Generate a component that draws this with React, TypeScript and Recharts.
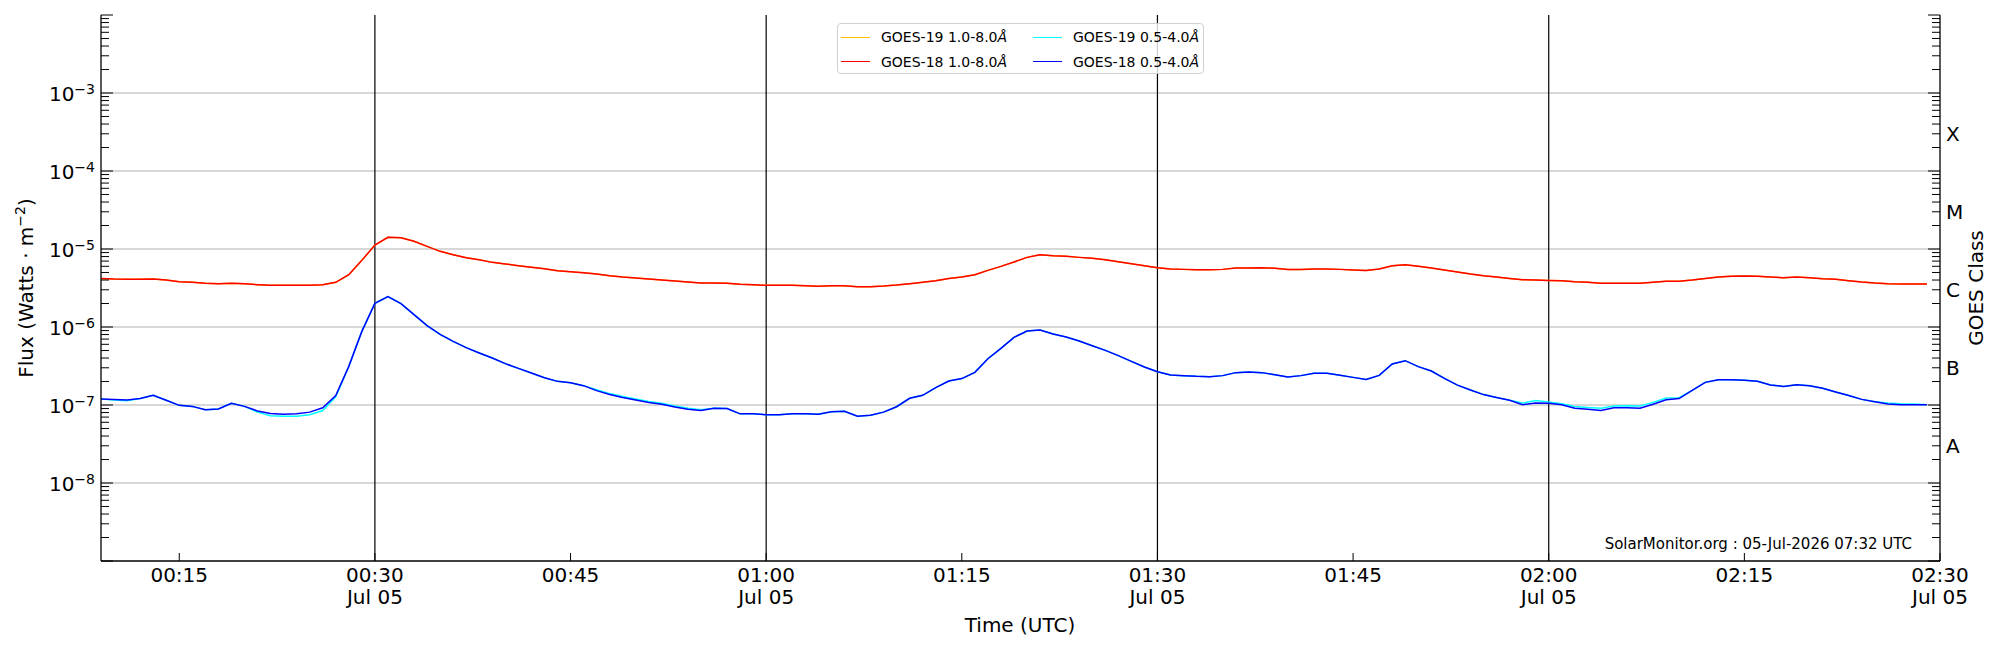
import React from 'react';
import { LineChart, Line, XAxis, YAxis, ReferenceLine, Legend } from 'recharts';

// one-minute GOES XRS samples, first one at 00:09 UTC
const startMinute = 9;

const goes18Long = [
  4.20e-6, 4.12e-6, 4.08e-6, 4.08e-6, 4.12e-6, 4.00e-6, 3.81e-6, 3.74e-6, 3.63e-6, 3.59e-6,
  3.63e-6, 3.59e-6, 3.49e-6, 3.42e-6, 3.42e-6, 3.42e-6, 3.42e-6, 3.49e-6, 3.74e-6, 4.69e-6,
  7.15e-6, 1.126e-5, 1.411e-5, 1.397e-5, 1.254e-5, 1.082e-5, 9.33e-6, 8.45e-6, 7.74e-6, 7.29e-6,
  6.74e-6, 6.42e-6, 6.11e-6, 5.82e-6, 5.59e-6, 5.27e-6, 5.12e-6, 4.97e-6, 4.78e-6, 4.55e-6,
  4.37e-6, 4.25e-6, 4.12e-6, 4.00e-6, 3.89e-6, 3.77e-6, 3.66e-6, 3.66e-6, 3.63e-6, 3.52e-6,
  3.49e-6, 3.42e-6, 3.42e-6, 3.42e-6, 3.39e-6, 3.32e-6, 3.39e-6, 3.39e-6, 3.29e-6, 3.29e-6,
  3.35e-6, 3.45e-6, 3.59e-6, 3.74e-6, 3.92e-6, 4.20e-6, 4.37e-6, 4.69e-6, 5.32e-6, 5.99e-6,
  6.81e-6, 7.81e-6, 8.45e-6, 8.21e-6, 8.05e-6, 7.81e-6, 7.59e-6, 7.29e-6, 6.88e-6, 6.48e-6,
  6.11e-6, 5.76e-6, 5.54e-6, 5.48e-6, 5.43e-6, 5.43e-6, 5.48e-6, 5.70e-6, 5.70e-6, 5.76e-6,
  5.65e-6, 5.48e-6, 5.48e-6, 5.54e-6, 5.54e-6, 5.48e-6, 5.38e-6, 5.32e-6, 5.54e-6, 6.11e-6,
  6.29e-6, 5.99e-6, 5.70e-6, 5.38e-6, 5.07e-6, 4.78e-6, 4.55e-6, 4.37e-6, 4.20e-6, 4.04e-6,
  4.00e-6, 3.96e-6, 3.92e-6, 3.81e-6, 3.74e-6, 3.63e-6, 3.63e-6, 3.63e-6, 3.63e-6, 3.74e-6,
  3.85e-6, 3.85e-6, 4.00e-6, 4.20e-6, 4.37e-6, 4.46e-6, 4.50e-6, 4.46e-6, 4.37e-6, 4.29e-6,
  4.37e-6, 4.29e-6, 4.16e-6, 4.08e-6, 3.92e-6, 3.77e-6, 3.66e-6, 3.59e-6, 3.56e-6, 3.56e-6,
  3.56e-6,
];

const goes19Long = [
  4.20e-6, 4.12e-6, 4.08e-6, 4.08e-6, 4.12e-6, 4.00e-6, 3.81e-6, 3.74e-6, 3.63e-6, 3.59e-6,
  3.63e-6, 3.59e-6, 3.49e-6, 3.42e-6, 3.42e-6, 3.42e-6, 3.42e-6, 3.49e-6, 3.74e-6, 4.69e-6,
  7.15e-6, 1.126e-5, 1.411e-5, 1.397e-5, 1.254e-5, 1.082e-5, 9.33e-6, 8.45e-6, 7.74e-6, 7.29e-6,
  6.74e-6, 6.42e-6, 6.11e-6, 5.82e-6, 5.59e-6, 5.27e-6, 5.12e-6, 4.97e-6, 4.78e-6, 4.55e-6,
  4.37e-6, 4.25e-6, 4.12e-6, 4.00e-6, 3.89e-6, 3.77e-6, 3.66e-6, 3.66e-6, 3.63e-6, 3.52e-6,
  3.49e-6, 3.42e-6, 3.42e-6, 3.42e-6, 3.39e-6, 3.32e-6, 3.39e-6, 3.39e-6, 3.29e-6, 3.29e-6,
  3.35e-6, 3.45e-6, 3.59e-6, 3.74e-6, 3.92e-6, 4.20e-6, 4.37e-6, 4.69e-6, 5.32e-6, 5.99e-6,
  6.81e-6, 7.81e-6, 8.45e-6, 8.21e-6, 8.05e-6, 7.81e-6, 7.59e-6, 7.29e-6, 6.88e-6, 6.48e-6,
  6.11e-6, 5.76e-6, 5.54e-6, 5.48e-6, 5.43e-6, 5.43e-6, 5.48e-6, 5.70e-6, 5.70e-6, 5.76e-6,
  5.65e-6, 5.48e-6, 5.48e-6, 5.54e-6, 5.54e-6, 5.48e-6, 5.38e-6, 5.32e-6, 5.54e-6, 6.11e-6,
  6.29e-6, 5.99e-6, 5.70e-6, 5.38e-6, 5.07e-6, 4.78e-6, 4.55e-6, 4.37e-6, 4.20e-6, 4.04e-6,
  4.00e-6, 3.96e-6, 3.92e-6, 3.81e-6, 3.74e-6, 3.63e-6, 3.63e-6, 3.63e-6, 3.63e-6, 3.74e-6,
  3.85e-6, 3.85e-6, 4.00e-6, 4.20e-6, 4.37e-6, 4.46e-6, 4.50e-6, 4.46e-6, 4.37e-6, 4.29e-6,
  4.37e-6, 4.29e-6, 4.16e-6, 4.08e-6, 3.92e-6, 3.77e-6, 3.66e-6, 3.59e-6, 3.56e-6, 3.56e-6,
  3.56e-6,
];

const goes18Short = [
  1.19e-7, 1.18e-7, 1.16e-7, 1.21e-7, 1.33e-7, 1.15e-7, 9.9e-8, 9.6e-8, 8.7e-8, 8.9e-8,
  1.05e-7, 9.6e-8, 8.4e-8, 7.8e-8, 7.6e-8, 7.7e-8, 8.1e-8, 9.2e-8, 1.32e-7, 3.13e-7,
  8.79e-7, 2.01e-6, 2.45e-6, 1.99e-6, 1.44e-6, 1.04e-6, 8.05e-7, 6.55e-7, 5.43e-7, 4.64e-7,
  4.00e-7, 3.39e-7, 2.95e-7, 2.57e-7, 2.24e-7, 2.01e-7, 1.93e-7, 1.77e-7, 1.53e-7, 1.36e-7,
  1.25e-7, 1.16e-7, 1.08e-7, 1.02e-7, 9.4e-8, 8.8e-8, 8.5e-8, 9.1e-8, 9.0e-8, 7.7e-8,
  7.7e-8, 7.5e-8, 7.5e-8, 7.7e-8, 7.7e-8, 7.6e-8, 8.2e-8, 8.3e-8, 7.2e-8, 7.4e-8,
  8.1e-8, 9.5e-8, 1.22e-7, 1.33e-7, 1.67e-7, 2.03e-7, 2.18e-7, 2.62e-7, 3.92e-7, 5.32e-7,
  7.37e-7, 8.88e-7, 9.14e-7, 8.13e-7, 7.44e-7, 6.61e-7, 5.76e-7, 5.02e-7, 4.29e-7, 3.63e-7,
  3.07e-7, 2.67e-7, 2.42e-7, 2.38e-7, 2.33e-7, 2.31e-7, 2.38e-7, 2.60e-7, 2.65e-7, 2.60e-7,
  2.45e-7, 2.28e-7, 2.38e-7, 2.55e-7, 2.55e-7, 2.40e-7, 2.26e-7, 2.13e-7, 2.40e-7, 3.35e-7,
  3.70e-7, 3.10e-7, 2.73e-7, 2.20e-7, 1.80e-7, 1.56e-7, 1.36e-7, 1.25e-7, 1.15e-7, 1.01e-7,
  1.06e-7, 1.05e-7, 1.01e-7, 9.1e-8, 8.8e-8, 8.5e-8, 9.2e-8, 9.2e-8, 9.1e-8, 1.02e-7,
  1.17e-7, 1.21e-7, 1.54e-7, 1.95e-7, 2.11e-7, 2.11e-7, 2.07e-7, 2.01e-7, 1.80e-7, 1.73e-7,
  1.82e-7, 1.77e-7, 1.64e-7, 1.47e-7, 1.32e-7, 1.18e-7, 1.10e-7, 1.03e-7, 1.01e-7, 1.01e-7,
  1.01e-7,
];

const goes19Short = [
  1.19e-7, 1.16e-7, 1.13e-7, 1.21e-7, 1.33e-7, 1.15e-7, 9.9e-8, 9.6e-8, 8.7e-8, 8.9e-8,
  1.05e-7, 9.6e-8, 8.1e-8, 7.3e-8, 7.2e-8, 7.2e-8, 7.5e-8, 8.5e-8, 1.27e-7, 3.13e-7,
  8.79e-7, 2.01e-6, 2.45e-6, 1.99e-6, 1.44e-6, 1.04e-6, 8.05e-7, 6.55e-7, 5.43e-7, 4.64e-7,
  4.00e-7, 3.39e-7, 2.95e-7, 2.57e-7, 2.24e-7, 2.01e-7, 1.93e-7, 1.77e-7, 1.57e-7, 1.40e-7,
  1.29e-7, 1.19e-7, 1.11e-7, 1.05e-7, 9.7e-8, 9.1e-8, 8.7e-8, 9.1e-8, 9.0e-8, 7.7e-8,
  7.7e-8, 7.5e-8, 7.5e-8, 7.7e-8, 7.7e-8, 7.6e-8, 8.2e-8, 8.3e-8, 7.2e-8, 7.4e-8,
  8.1e-8, 9.5e-8, 1.22e-7, 1.33e-7, 1.67e-7, 2.03e-7, 2.18e-7, 2.62e-7, 3.92e-7, 5.32e-7,
  7.37e-7, 8.88e-7, 9.14e-7, 8.13e-7, 7.44e-7, 6.61e-7, 5.76e-7, 5.02e-7, 4.29e-7, 3.63e-7,
  3.07e-7, 2.67e-7, 2.42e-7, 2.38e-7, 2.33e-7, 2.31e-7, 2.38e-7, 2.60e-7, 2.65e-7, 2.60e-7,
  2.45e-7, 2.28e-7, 2.38e-7, 2.55e-7, 2.55e-7, 2.40e-7, 2.26e-7, 2.13e-7, 2.40e-7, 3.35e-7,
  3.70e-7, 3.10e-7, 2.73e-7, 2.20e-7, 1.80e-7, 1.56e-7, 1.36e-7, 1.25e-7, 1.15e-7, 1.06e-7,
  1.14e-7, 1.09e-7, 1.04e-7, 9.6e-8, 9.3e-8, 9.1e-8, 9.7e-8, 9.8e-8, 9.7e-8, 1.08e-7,
  1.23e-7, 1.24e-7, 1.54e-7, 1.95e-7, 2.11e-7, 2.11e-7, 2.07e-7, 2.01e-7, 1.80e-7, 1.73e-7,
  1.82e-7, 1.77e-7, 1.64e-7, 1.47e-7, 1.32e-7, 1.18e-7, 1.10e-7, 1.06e-7, 1.04e-7, 1.03e-7,
  1.01e-7,
];

const xTickMinutes = [15, 30, 45, 60, 75, 90, 105, 120, 135, 150];
const xTickTimes = ['00:15', '00:30', '00:45', '01:00', '01:15', '01:30', '01:45', '02:00', '02:15', '02:30'];
const xTickDates = ['', 'Jul 05', '', 'Jul 05', '', 'Jul 05', '', 'Jul 05', '', 'Jul 05'];
const halfHourLines = [30, 60, 90, 120];

const fluxExponents = [-8, -7, -6, -5, -4, -3];
const classLetters = ['A', 'B', 'C', 'M', 'X'];
const classLevels = [3e-8, 3e-7, 3e-6, 3e-5, 3e-4];

const series = [
  { key: 'g19l', name: 'GOES-19 1.0-8.0', color: '#ffbf00' },
  { key: 'g18l', name: 'GOES-18 1.0-8.0', color: '#ff0000' },
  { key: 'g19s', name: 'GOES-19 0.5-4.0', color: '#00ffff' },
  { key: 'g18s', name: 'GOES-18 0.5-4.0', color: '#0000ff' },
];

const rows = goes18Long.map((_, i) => ({
  t: startMinute + i,
  g19l: goes19Long[i],
  g18l: goes18Long[i],
  g19s: goes19Short[i],
  g18s: goes18Short[i],
}));

const FONT = 'DejaVu Sans, sans-serif';
const Y_DOMAIN: [number, number] = [1e-9, 1e-2];
const X_DOMAIN: [number, number] = [9, 150];

// decades 1e-9 .. 1e-2 with the 2..9 minor steps in between
const logTicks: number[] = [];
for (let e = -9; e <= -3; e++) {
  for (let k = 1; k <= 9; k++) logTicks.push(Number((k * Math.pow(10, e)).toPrecision(6)));
}
logTicks.push(1e-2);

const decadeOf = (v: number) => Math.floor(Math.log10(v) + 1e-9);
const isDecade = (v: number) => Math.abs(v / Math.pow(10, decadeOf(v)) - 1) < 1e-6;

const LeftTick = (props: any) => {
  const { x, y, payload } = props;
  const v = payload.value;
  const major = isDecade(v);
  const exp = decadeOf(v);
  return (
    <g>
      <line x1={x} y1={y} x2={x + (major ? 12 : 8)} y2={y} stroke="#000" strokeWidth={1} />
      {major && fluxExponents.includes(exp) && (
        <text x={x - 6} y={y + 8} textAnchor="end" fontSize={20} fontFamily={FONT} fill="#000">
          10
          <tspan fontSize={14} dy={-7.5}>{`\u2212${-exp}`}</tspan>
        </text>
      )}
    </g>
  );
};

const RightTick = (props: any) => {
  const { x, y, payload } = props;
  const v = payload.value;
  const major = isDecade(v);
  const ci = classLevels.findIndex((c) => Math.abs(c - v) / c < 1e-6);
  return (
    <g>
      <line x1={x} y1={y} x2={x - (major ? 12 : 8)} y2={y} stroke="#000" strokeWidth={1} />
      {ci >= 0 && (
        <text x={x + 6} y={y + 7} textAnchor="start" fontSize={20} fontFamily={FONT} fill="#000">
          {classLetters[ci]}
        </text>
      )}
    </g>
  );
};

const TimeTick = (props: any) => {
  const { x, y, payload } = props;
  const i = xTickMinutes.indexOf(payload.value);
  return (
    <g>
      <line x1={x} y1={y} x2={x} y2={y - 8} stroke="#000" strokeWidth={1} />
      <text x={x} y={y + 21} textAnchor="middle" fontSize={20} fontFamily={FONT} fill="#000">
        {xTickTimes[i]}
      </text>
      {xTickDates[i] && (
        <text x={x} y={y + 43} textAnchor="middle" fontSize={20} fontFamily={FONT} fill="#000">
          {xTickDates[i]}
        </text>
      )}
    </g>
  );
};

const LegendBox = () => (
  <div
    style={{
      position: 'relative',
      width: 367,
      height: 51,
      boxSizing: 'border-box',
      border: '1px solid #d0d0d0',
      borderRadius: 4,
      background: 'rgba(255,255,255,0.8)',
      fontFamily: FONT,
      fontSize: 14,
      color: '#000',
    }}
  >
    {series.map((s, i) => (
      <div
        key={s.key}
        style={{
          position: 'absolute',
          left: 3 + Math.floor(i / 2) * 192,
          top: 3 + (i % 2) * 24.7,
          height: 20,
          display: 'flex',
          alignItems: 'center',
          whiteSpace: 'nowrap',
        }}
      >
        <span style={{ display: 'inline-block', width: 29, height: 1, background: s.color, marginRight: 11 }} />
        <span>
          {s.name}
          <i>Å</i>
        </span>
      </div>
    ))}
  </div>
);

const spine = { stroke: '#000', strokeWidth: 1.3 };

const App: React.FC = () => {
  return (
    <div style={{ position: 'absolute', left: 0, top: 0, width: 2000, height: 650, background: '#fff' }}>
      <LineChart width={2000} height={650} data={rows} margin={{ top: 15, right: 0, bottom: 0, left: 0 }}>
        <XAxis
          xAxisId="b"
          dataKey="t"
          type="number"
          domain={X_DOMAIN}
          allowDataOverflow
          ticks={xTickMinutes}
          interval={0}
          tick={<TimeTick />}
          tickLine={false}
          tickSize={0}
          tickMargin={0}
          height={89}
          axisLine={spine}
        />
        <XAxis xAxisId="top" orientation="top" type="number" domain={X_DOMAIN} allowDataOverflow height={0} tick={false} tickLine={false} axisLine={spine} />
        <YAxis
          yAxisId="l"
          scale="log"
          type="number"
          domain={Y_DOMAIN}
          allowDataOverflow
          ticks={logTicks}
          interval={0}
          tick={<LeftTick />}
          tickLine={false}
          tickSize={0}
          tickMargin={0}
          width={101}
          axisLine={spine}
        />
        <YAxis
          yAxisId="r"
          orientation="right"
          scale="log"
          type="number"
          domain={Y_DOMAIN}
          allowDataOverflow
          ticks={logTicks}
          interval={0}
          tick={<RightTick />}
          tickLine={false}
          tickSize={0}
          tickMargin={0}
          width={60}
          axisLine={spine}
        />
        {fluxExponents.map((e) => (
          <ReferenceLine key={`g${e}`} xAxisId="b" yAxisId="l" y={Math.pow(10, e)} stroke="#b0b0b0" strokeWidth={1} />
        ))}
        {halfHourLines.map((m) => (
          <ReferenceLine key={`v${m}`} xAxisId="b" yAxisId="l" x={m} stroke="#000" strokeWidth={1.2} />
        ))}
        {series.map((s) => (
          <Line
            key={s.key}
            xAxisId="b"
            yAxisId="l"
            type="linear"
            dataKey={s.key}
            name={s.name}
            stroke={s.color}
            strokeWidth={1.5}
            dot={false}
            activeDot={false}
            isAnimationActive={false}
          />
        ))}
        <Legend
          layout="horizontal"
          verticalAlign="middle"
          align="center"
          content={() => <LegendBox />}
          wrapperStyle={{ left: 837, top: 23, width: 367, height: 51 }}
        />
      </LineChart>
      <svg width={2000} height={650} style={{ position: 'absolute', left: 0, top: 0, pointerEvents: 'none' }}>
        <text transform="translate(32.5,288) rotate(-90)" textAnchor="middle" fontSize={20} fontFamily={FONT} fill="#000">
          Flux (Watts · m
          <tspan fontSize={14} dy={-8}>{'\u22122'}</tspan>
          <tspan dy={8}>)</tspan>
        </text>
        <text transform="translate(1983,288) rotate(-90)" textAnchor="middle" fontSize={20} fontFamily={FONT} fill="#000">
          GOES Class
        </text>
        <text x={1020} y={632} textAnchor="middle" fontSize={20} fontFamily={FONT} fill="#000">
          Time (UTC)
        </text>
        <text x={1912} y={549} textAnchor="end" fontSize={15} fontFamily={FONT} fill="#000">
          SolarMonitor.org : 05-Jul-2026 07:32 UTC
        </text>
      </svg>
    </div>
  );
};

export default App;
